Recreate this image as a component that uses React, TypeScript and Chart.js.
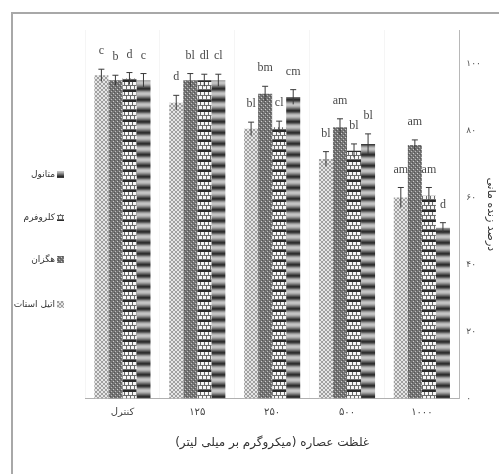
import { useEffect, useRef } from 'react';
import { Chart, registerables } from 'chart.js';

Chart.register(...registerables);

// ---------- data ----------
const categories = ['کنترل', '۱۲۵', '۲۵۰', '۵۰۰', '۱۰۰۰'];
const seriesNames = ['اتیل استات', 'هگزان', 'کلروفرم', 'متانول'];

const ethylAcetate = [96.5, 88.3, 80.5, 71.5, 60];
const hexane = [95, 95, 91, 81, 75.7];
const chloroform = [95.5, 95, 81, 74, 60.5];
const methanol = [95, 95, 90, 76, 51];

const errEthylAcetate = [1.8, 2.2, 2, 2.2, 3];
const errHexane = [1.5, 2, 2.2, 2.5, 1.5];
const errChloroform = [1.8, 1.8, 1.8, 2, 2.5];
const errMethanol = [2, 1.8, 2.2, 3, 1.5];

const lettersEthylAcetate = ['c', 'd', 'bl', 'bl', 'am'];
const lettersHexane = ['b', 'bl', 'bm', 'am', 'am'];
const lettersChloroform = ['d', 'dl', 'cl', 'bl', 'am'];
const lettersMethanol = ['c', 'cl', 'cm', 'bl', 'd'];

const yTicks = [0, 20, 40, 60, 80, 100];

const xTitle = 'غلظت عصاره (میکروگرم بر میلی لیتر)';
const yTitle = 'درصد زنده مانی';

const faDigits = (v: number | string) =>
  String(v).replace(/\d/g, (d) => '۰۱۲۳۴۵۶۷۸۹'[Number(d)]);

// ---------- patterns ----------
function makeTile(w: number, h: number, draw: (c: CanvasRenderingContext2D) => void) {
  const cv = document.createElement('canvas');
  cv.width = w;
  cv.height = h;
  const c = cv.getContext('2d')!;
  draw(c);
  const main = document.createElement('canvas').getContext('2d')!;
  return main.createPattern(cv, 'repeat')!;
}

function px(c: CanvasRenderingContext2D, x: number, y: number, col: string, w = 1, h = 1) {
  c.fillStyle = col;
  c.fillRect(x, y, w, h);
}

function buildPatterns() {
  const pLight = makeTile(4, 4, (c) => {
    px(c, 0, 0, '#e6e6e6', 4, 4);
    for (let i = 0; i < 4; i++) {
      px(c, i, i, '#a0a0a0');
      px(c, 3 - i, i, '#a0a0a0');
    }
  });
  const pDark = makeTile(4, 4, (c) => {
    px(c, 0, 0, '#747474', 4, 4);
    px(c, 1, 1, '#cfcfcf');
    px(c, 3, 3, '#bdbdbd');
    px(c, 0, 2, '#555555');
    px(c, 2, 0, '#555555');
  });
  const pBrick = makeTile(8, 10, (c) => {
    px(c, 0, 0, '#6a6a6a', 8, 10);
    px(c, 0, 0, '#2a2a2a', 8, 2);
    px(c, 1, 2, '#f6f6f6', 3, 3);
    px(c, 5, 2, '#f6f6f6', 3, 3);
    px(c, 0, 6, '#f6f6f6', 2, 3);
    px(c, 3, 6, '#f6f6f6', 3, 3);
    px(c, 7, 6, '#f6f6f6', 1, 3);
  });
  const stripe = ['#2e2e2e', '#3c3c3c', '#646464', '#939393', '#b4b4b4', '#c4c4c4', '#c0c0c0', '#acacac', '#8e8e8e', '#6c6c6c', '#4a4a4a'];
  const pStripe = makeTile(1, stripe.length, (c) => {
    stripe.forEach((col, i) => px(c, 0, i, col));
  });
  return [pLight, pDark, pBrick, pStripe];
}

// ---------- plugins ----------
const errorsAll = [errEthylAcetate, errHexane, errChloroform, errMethanol];
const lettersAll = [lettersEthylAcetate, lettersHexane, lettersChloroform, lettersMethanol];

const errorBarPlugin = {
  id: 'errorBars',
  afterDatasetsDraw(chart: any) {
    const ctx = chart.ctx;
    const y = chart.scales.y;
    ctx.save();
    chart.data.datasets.forEach((ds: any, i: number) => {
      const meta = chart.getDatasetMeta(i);
      meta.data.forEach((el: any, j: number) => {
        const v = ds.data[j];
        const e = errorsAll[i][j];
        const yt = y.getPixelForValue(v + e);
        const yb = y.getPixelForValue(v - e);
        ctx.strokeStyle = '#3a3a3a';
        ctx.lineWidth = 1;
        ctx.beginPath();
        ctx.moveTo(el.x, yb);
        ctx.lineTo(el.x, yt);
        ctx.moveTo(el.x - 3, yt);
        ctx.lineTo(el.x + 3, yt);
        ctx.stroke();
        ctx.fillStyle = '#4a4a4a';
        ctx.font = '12px "Liberation Serif", serif';
        ctx.textAlign = 'center';
        ctx.textBaseline = 'bottom';
        ctx.fillText(lettersAll[i][j], el.x, yt - 12);
      });
    });
    ctx.restore();
  },
};

const legendYs = [175, 218, 260, 305];

const sideLegendPlugin = {
  id: 'sideLegend',
  afterDraw(chart: any) {
    const ctx = chart.ctx;
    ctx.save();
    const n = chart.data.datasets.length;
    for (let k = 0; k < n; k++) {
      const ds = chart.data.datasets[n - 1 - k];
      const cy = legendYs[k];
      ctx.fillStyle = ds.backgroundColor;
      ctx.fillRect(57, cy - 4, 7, 7);
      ctx.fillStyle = '#333';
      ctx.font = '9px "DejaVu Sans", sans-serif';
      ctx.textAlign = 'right';
      ctx.textBaseline = 'middle';
      ctx.fillText(ds.label, 55, cy);
    }
    ctx.restore();
  },
};

const framePlugin = {
  id: 'frame',
  beforeDraw(chart: any) {
    const ctx = chart.ctx;
    ctx.save();
    ctx.fillStyle = '#ffffff';
    ctx.fillRect(0, 0, chart.width, chart.height);
    ctx.strokeStyle = '#a8a8a8';
    ctx.lineWidth = 2;
    ctx.beginPath();
    ctx.moveTo(12, chart.height);
    ctx.lineTo(12, 13);
    ctx.lineTo(chart.width, 13);
    ctx.stroke();
    ctx.restore();
  },
};

export default function App() {
  const ref = useRef<HTMLCanvasElement>(null);

  useEffect(() => {
    if (!ref.current) return;
    const patterns = buildPatterns();
    const values = [ethylAcetate, hexane, chloroform, methanol];
    const chart = new Chart(ref.current, {
      type: 'bar',
      data: {
        labels: categories,
        datasets: seriesNames.map((name, i) => ({
          label: name,
          data: values[i],
          backgroundColor: patterns[i] as any,
          borderWidth: 0,
          categoryPercentage: 0.75,
          barPercentage: 1,
        })),
      },
      options: {
        animation: false,
        responsive: true,
        maintainAspectRatio: false,
        layout: { padding: { left: 85, top: 30, right: 0, bottom: 20 } },
        plugins: {
          legend: { display: false },
          tooltip: { enabled: false },
        },
        scales: {
          x: {
            grid: { display: true, offset: true, color: 'rgba(0,0,0,0.04)', drawTicks: false },
            border: { display: true, color: '#b0b0b0', width: 1 },
            ticks: {
              padding: 8,
              maxRotation: 0,
              color: '#444',
              font: { size: 10, family: '"DejaVu Sans", sans-serif' },
            },
            title: {
              display: true,
              text: xTitle,
              color: '#333',
              font: { size: 12, family: '"DejaVu Sans", sans-serif' },
              padding: { top: 9, bottom: 4 },
            },
          },
          y: {
            position: 'right',
            min: 0,
            max: 110,
            afterBuildTicks: (scale: any) => {
              scale.ticks = yTicks.map((v) => ({ value: v }));
            },
            grid: { display: false, drawTicks: true, tickLength: 4 },
            border: { display: true, color: '#b8b8b8', width: 1 },
            ticks: {
              padding: 3,
              color: '#555',
              font: { size: 9, family: '"DejaVu Sans", sans-serif' },
              callback: (v: any) => faDigits(v),
            },
            title: {
              display: true,
              text: yTitle,
              color: '#333',
              font: { size: 11, family: '"DejaVu Sans", sans-serif' },
              padding: { top: 2, bottom: 0 },
            },
          },
        },
      },
      plugins: [framePlugin, errorBarPlugin, sideLegendPlugin],
    });
    return () => chart.destroy();
  }, []);

  return (
    <div style={{ position: 'absolute', left: 0, top: 0, width: 499, height: 474, background: '#fff' }}>
      <canvas ref={ref} style={{ width: '100%', height: '100%' }} />
    </div>
  );
}
